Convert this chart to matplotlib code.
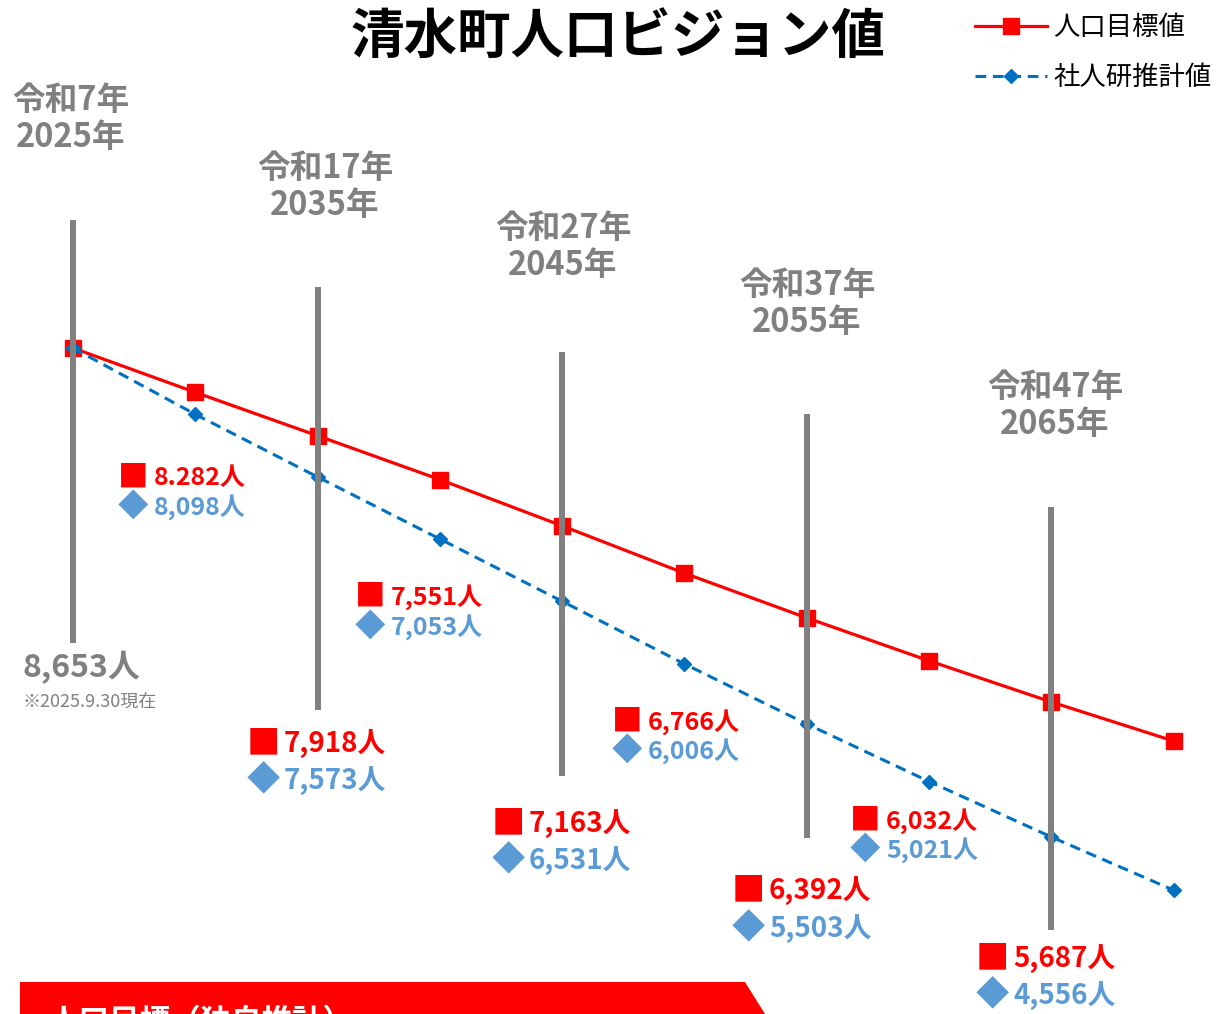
import matplotlib
matplotlib.use('Agg')
import matplotlib.pyplot as plt
from matplotlib.patches import Polygon

plt.rcParams['font.family'] = ['Noto Sans CJK JP', 'DejaVu Sans']

# data
years = [2025, 2030, 2035, 2040, 2045, 2050, 2055, 2060, 2065, 2070]
target = [8653, 8282, 7918, 7551, 7163, 6766, 6392, 6032, 5687, 5360]
ipss = [8653, 8098, 7573, 7053, 6531, 6006, 5503, 5021, 4556, 4110]
target_lbl = ['8.282人', '7,918人', '7,551人', '7,163人', '6,766人', '6,392人', '6,032人', '5,687人']
ipss_lbl = ['8,098人', '7,573人', '7,053人', '6,531人', '6,006人', '5,503人', '5,021人', '4,556人']
era_lbl = ['令和7年\n2025年', '令和17年\n2035年', '令和27年\n2045年', '令和37年\n2055年', '令和47年\n2065年']
era_years = [2025, 2035, 2045, 2055, 2065]

RED = '#FF0000'
BLUE = '#0070C0'
LBLUE = '#5B9BD5'
GRAY = '#808080'

W, H = 1219, 1014
fig = plt.figure(figsize=(W / 100, H / 100), dpi=100)
ax = fig.add_axes([0, 0, 1, 1])
ax.axis('off')
ax.set_xlim(2022.02, 2071.85)
ax.set_ylim(3073, 11569)


def ft(px, py, s, **kw):
    return fig.text(px / W, 1 - py / H, s, **kw)


ax.plot(years, target, color=RED, lw=2.3, marker='s', ms=11, label='人口目標値', zorder=3)
ax.plot(years, ipss, color=BLUE, lw=2.2, ls=(0, (3.5, 2.2)), marker='D', ms=7.5,
        label='社人研推計値', zorder=3)

# gray year bars (top/bottom in pixels)
bar_px = [(220, 643), (287, 710), (352, 776), (414, 838), (507, 930)]
for yr, (t, b) in zip(era_years, bar_px):
    ax.axvline(yr, ymin=1 - b / H, ymax=1 - t / H, color=GRAY, lw=4.3, zorder=4,
               solid_capstyle='butt')

# era labels
era_px = [(71, 119), (325, 187), (563, 247), (807, 304), (1055, 406)]
for s, (px, py) in zip(era_lbl, era_px):
    ft(px, py, s, ha='center', va='center', color=GRAY, fontsize=23.5,
       fontweight='bold', linespacing=1.12)

# 2025 value
ft(22, 668, '8,653人', ha='left', va='center', color=GRAY, fontsize=23, fontweight='bold')
ft(22, 703, '※2025.9.30現在', ha='left', va='center', color=GRAY, fontsize=13)

# value labels
lbl_px = [(133, 478, 507, 18), (263, 744, 781, 20), (370, 597, 627, 18), (508, 824, 861, 20),
          (627, 722, 751, 18), (748, 891, 929, 20), (865, 821, 850, 18), (992, 959, 996, 20)]
for tl, il, (px, ry, by, fs) in zip(target_lbl, ipss_lbl, lbl_px):
    ft(px, ry, '■', ha='center', va='center', color=RED, fontsize=fs + 4)
    ft(px + 21, ry, tl, ha='left', va='center', color=RED, fontsize=fs, fontweight='bold')
    ft(px, by, '◆', ha='center', va='center', color=LBLUE, fontsize=fs + 4)
    ft(px + 21, by, il, ha='left', va='center', color=LBLUE, fontsize=fs, fontweight='bold')

# title
ft(618, 37, '清水町人口ビジョン値', ha='center', va='center', fontsize=38.5, fontweight='bold')

# legend
ax.legend(loc='upper left', bbox_to_anchor=(957 / W, 1.0 + 4 / H), frameon=False, fontsize=19,
          handlelength=2.7, handletextpad=0.25, labelspacing=0.85, borderpad=0.2,
          numpoints=1)

# banner at bottom
ban = Polygon([(20 / W, 1 - 982 / H), (745 / W, 1 - 982 / H), (765 / W, 0), (20 / W, 0)],
              closed=True, transform=fig.transFigure, facecolor=RED, edgecolor='none')
fig.patches.append(ban)
ft(48, 1006, '人口目標（独自推計）', ha='left', va='top', color='white', fontsize=22,
   fontweight='bold')

fig.savefig('out.png', dpi=100)
